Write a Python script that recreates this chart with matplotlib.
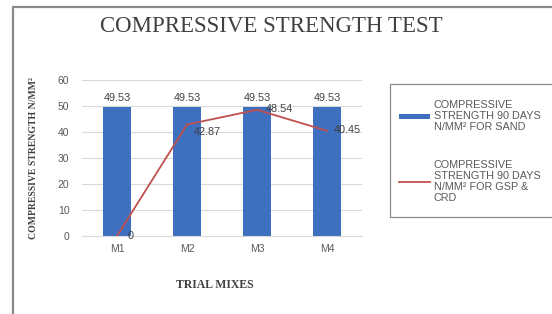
import numpy as np
import matplotlib.pyplot as plt
from matplotlib.patches import Rectangle

# chart data
mixes = ['M1', 'M2', 'M3', 'M4']
sand_strength = [49.53, 49.53, 49.53, 49.53]
gsp_crd_strength = [0, 42.87, 48.54, 40.45]
sand_labels = ['49.53', '49.53', '49.53', '49.53']
gsp_labels = ['0', '42.87', '48.54', '40.45']

W, H = 552, 314
fig = plt.figure(figsize=(W / 100, H / 100), dpi=100)
fig.patch.set_facecolor('white')


def box(x0, y0, x1, y1, lw):
    # filled white box, its right / bottom sides fall outside the picture
    fig.patches.append(Rectangle((x0 / W, 1 - y1 / H), (x1 - x0) / W,
                                 (y1 - y0) / H, transform=fig.transFigure,
                                 facecolor='white', edgecolor='#8a8a8a',
                                 linewidth=lw, zorder=-2))


# outer frame of the chart
box(12.5, 6.5, W + 40, H + 40, 1.6)
# legend box runs past the right edge of the picture
box(390, 84, W + 40, 217, 0.9)

ax = fig.add_axes([82 / W, 1 - 236 / H, 280 / W, 156 / H])
ax.patch.set_alpha(0)
x = np.arange(len(mixes))

bars = ax.bar(x, sand_strength, width=0.41, color='#3f6fbf', zorder=2,
              label='COMPRESSIVE\nSTRENGTH 90 DAYS\nN/MM² FOR SAND')
line, = ax.plot(x, gsp_crd_strength, color='#c0504d', linewidth=1.3,
                zorder=3,
                label='COMPRESSIVE\nSTRENGTH 90 DAYS\nN/MM² FOR GSP &\nCRD')

for xi, yi, lab in zip(x, sand_strength, sand_labels):
    ax.text(xi, yi + 1.8, lab, ha='center', va='bottom', fontsize=7.8,
            color='#404040', family='Liberation Sans')

offsets = [(0.15, 0.0), (0.1, -2.8), (0.12, 0.3), (0.1, 0.3)]
for xi, yi, lab, off in zip(x, gsp_crd_strength, gsp_labels, offsets):
    ax.text(xi + off[0], yi + off[1], lab, ha='left', va='center',
            fontsize=7.8, color='#404040', family='Liberation Sans')

ax.set_xlim(-0.5, 3.5)
ax.set_ylim(0, 60)
ax.set_yticks(range(0, 61, 10))
ax.set_xticks(x)
ax.set_xticklabels(mixes)
ax.grid(axis='y', color='#d9d9d9', linewidth=0.8, zorder=0)
ax.tick_params(length=0, labelsize=7.5, colors='#595959')
ax.tick_params(axis='y', pad=9)
ax.tick_params(axis='x', pad=6)
for lab in ax.get_xticklabels() + ax.get_yticklabels():
    lab.set_family('Liberation Sans')
for side in ['top', 'right', 'left']:
    ax.spines[side].set_visible(False)
ax.spines['bottom'].set_color('#d9d9d9')

ax.set_ylabel('COMPRESSIVE STRENGTH N/MM²', family='Liberation Serif',
              fontsize=7, fontweight='bold', color='#404040', labelpad=14)
ax.set_xlabel('TRIAL MIXES', family='Liberation Serif', fontsize=8.5,
              fontweight='bold', color='#404040')
ax.xaxis.set_label_coords((215 - 82) / 280, -(279 - 236) / 156)

fig.text(271 / W, 1 - 27 / H, 'COMPRESSIVE STRENGTH TEST', ha='center',
         va='center', family='Liberation Serif', fontsize=16.5,
         color='#404040')

leg = fig.legend(handles=[bars, line], loc='upper left',
                 bbox_to_anchor=(394 / W, 1 - 95 / H), frameon=False,
                 handlelength=2.8, handleheight=0.4, labelspacing=2.6,
                 borderpad=0.0, handletextpad=0.35,
                 prop={'family': 'Liberation Sans', 'size': 7.8})
for t in leg.get_texts():
    t.set_color('#595959')
    t.set_linespacing(1.1)

fig.savefig('out.png', dpi=100)
